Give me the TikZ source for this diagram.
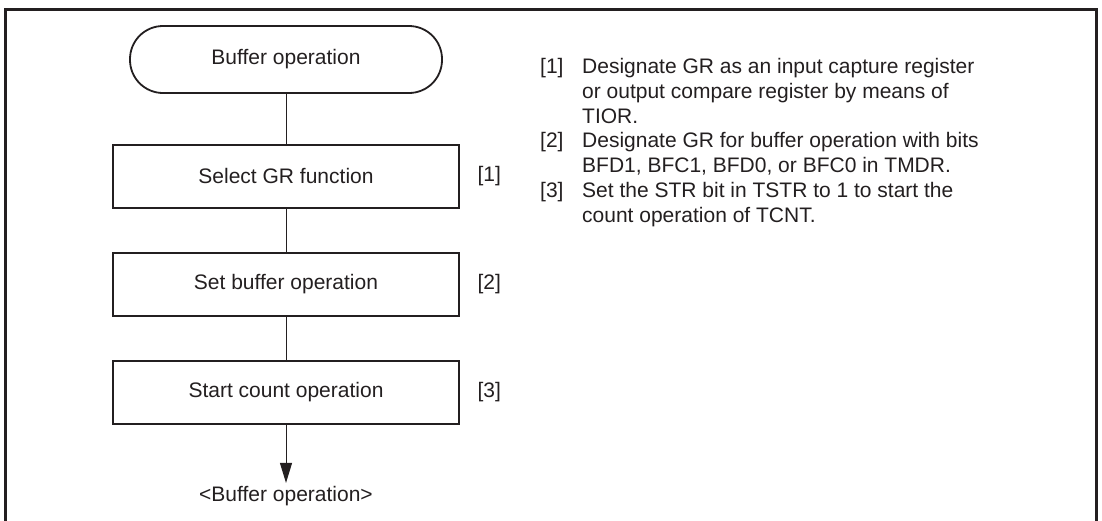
\documentclass[tikz,border=0pt]{standalone}
\usepackage{fontspec}
\setmainfont{Liberation Sans}
\usetikzlibrary{positioning,arrows.meta}
\definecolor{Ink}{HTML}{231F20}

\begin{document}
\begin{tikzpicture}[x=1pt,y=-1pt,node distance=43pt,
  font=\fontsize{21}{22.8}\selectfont,text=Ink,
  stepbox/.style={draw=Ink,line width=2pt,minimum width=346pt,minimum height=63pt},
  tag/.style={right=14pt of #1},
  flow/.style={draw=Ink,line width=1pt}]
\useasboundingbox (0,0) rectangle (1102,520);
% outer frame, open at the foot
\draw[Ink,line width=3pt] (5,540) -- (5,9) -- (1096,9) -- (1096,540);

\node[draw=Ink,line width=1.8pt,rounded corners=33pt,minimum width=312pt,minimum height=67pt] (start) at (286,59.5) {Buffer operation};
\node[stepbox,below=50pt of start] (selgr) {Select GR function};
\node[stepbox,below=of selgr] (setbuf) {Set buffer operation};
\node[stepbox,below=of setbuf] (startcnt) {Start count operation};
\node[below=58pt of startcnt,inner sep=3.5pt] (done) {<Buffer operation>};

\node[tag=selgr] (t1) {[1]};
\node[tag=setbuf] (t2) {[2]};
\node[tag=startcnt] (t3) {[3]};

\draw[flow] (start) -- (selgr);
\draw[flow] (selgr) -- (setbuf);
\draw[flow] (setbuf) -- (startcnt);
\draw[flow,-{Triangle[length=20pt,width=12pt]}] (startcnt) -- (done);

% notes on the right
\node[anchor=north west,align=left,inner sep=0pt,
  font=\fontsize{21}{22.8}\selectfont] (notes) at (540,58) {%
\makebox[42pt][l]{[1]}Designate GR as an input capture register\\[2pt]
\hspace*{42pt}or output compare register by means of\\[2pt]
\hspace*{42pt}TIOR.\\[2pt]
\makebox[42pt][l]{[2]}Designate GR for buffer operation with bits\\[2pt]
\hspace*{42pt}BFD1, BFC1, BFD0, or BFC0 in TMDR.\\[2pt]
\makebox[42pt][l]{[3]}Set the STR bit in TSTR to 1 to start the\\[2pt]
\hspace*{42pt}count operation of TCNT.};
\end{tikzpicture}
\end{document}
